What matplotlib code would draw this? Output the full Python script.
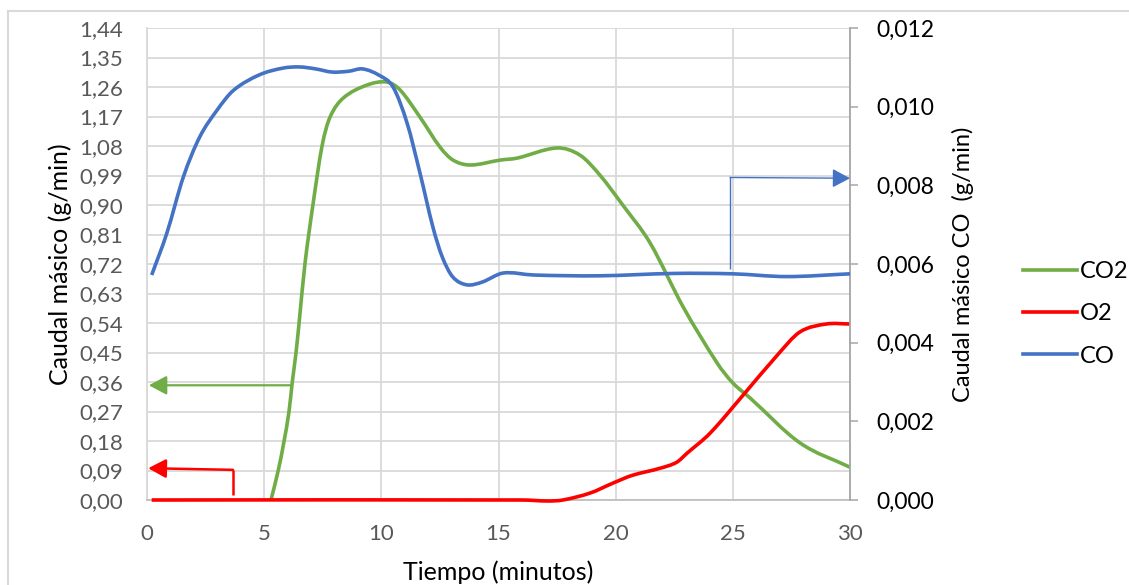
import matplotlib
matplotlib.use("Agg")
import matplotlib.pyplot as plt
import numpy as np
from matplotlib.path import Path
from matplotlib.patches import PathPatch
from matplotlib.lines import Line2D
from matplotlib.ticker import FixedLocator, FuncFormatter

plt.rcParams['font.family'] = ['Lato', 'DejaVu Sans']

# ---- data -------------------------------------------------------------
t_co2 = [5.29, 5.60, 5.85, 6.06, 6.20, 6.36, 6.49, 6.74, 7.08, 7.47, 7.81,
         8.37, 9.39, 10.24, 10.80, 11.65, 12.50, 13.06, 13.79, 15.07, 15.79,
         17.50, 18.48, 19.33, 20.30, 21.47, 22.88, 24.33, 25.00, 25.74,
         27.87, 30.00]
co2 = [0.00, 0.09, 0.18, 0.27, 0.36, 0.45, 0.54, 0.72, 0.90, 1.08, 1.168,
       1.226, 1.266, 1.275, 1.251, 1.168, 1.077, 1.037, 1.022, 1.037, 1.043,
       1.074, 1.052, 0.991, 0.900, 0.784, 0.589, 0.418, 0.357, 0.311,
       0.174, 0.100]

t_o2 = [0.2, 16.0, 17.1, 17.75, 18.9, 19.9, 20.7, 21.9, 22.6, 23.05, 24.03,
        25.44, 26.9, 27.87, 29.0, 30.0]
o2 = [0.0, 0.0, -0.003, 0.0, 0.021, 0.052, 0.075, 0.097, 0.115, 0.143, 0.204,
      0.320, 0.442, 0.513, 0.537, 0.537]

t_co = [0.2, 0.85, 1.55, 2.25, 3.0, 3.7, 4.8, 5.8, 6.5, 7.2, 7.9, 8.6, 9.2,
        9.9, 10.5, 11.1, 11.65, 12.2, 12.6, 13.05, 13.65, 14.3, 15.2, 16.5,
        19.3, 22.5, 25.0, 27.3, 30.0]
co = [0.00572, 0.00679, 0.00821, 0.00923, 0.00992, 0.01042, 0.01081, 0.01098,
      0.01101, 0.01096, 0.01088, 0.01090, 0.01096, 0.01080, 0.01050, 0.00958,
      0.00831, 0.00694, 0.00618, 0.00567, 0.00547, 0.00554, 0.00577, 0.00572,
      0.00570, 0.00576, 0.00575, 0.00568, 0.00575]

series_names = ["CO2", "O2", "CO"]
series_colors = ["#70ad47", "#ff0000", "#4472c4"]

x_ticks = [0, 5, 10, 15, 20, 25, 30]
left_ticks = [round(0.09 * i, 2) for i in range(17)]
right_ticks = [0.000, 0.002, 0.004, 0.006, 0.008, 0.010, 0.012]

# axis-pointer annotations (x, y values in each axis' units)
co2_pointer = dict(x_from=6.18, y=0.35, x_to=0.08)
o2_pointer = dict(x_corner=3.67, y_low=0.015, y_corner=0.092, x_to=0.05, y_to=0.097)
co_pointer = dict(x_corner=24.88, y_low=0.00587, y_corner=0.00820, x_to=30.0, y_to=0.00818)


def smooth_path(x, y):
    """Cubic Bezier path through the points (smoothed line)."""
    x = np.asarray(x, float)
    y = np.asarray(y, float)
    n = len(x)
    m = np.zeros(n)
    m[0] = (y[1] - y[0]) / (x[1] - x[0])
    m[-1] = (y[-1] - y[-2]) / (x[-1] - x[-2])
    for i in range(1, n - 1):
        m[i] = (y[i + 1] - y[i - 1]) / (x[i + 1] - x[i - 1])
    verts = [(x[0], y[0])]
    codes = [Path.MOVETO]
    for i in range(n - 1):
        dx = x[i + 1] - x[i]
        verts += [(x[i] + dx / 3, y[i] + m[i] * dx / 3),
                  (x[i + 1] - dx / 3, y[i + 1] - m[i + 1] * dx / 3),
                  (x[i + 1], y[i + 1])]
        codes += [Path.CURVE4] * 3
    return Path(verts, codes)


W, H = 1129, 585
fig = plt.figure(figsize=(W / 100, H / 100), dpi=100)
ax = fig.add_axes([147 / W, 1 - 500 / H, 703 / W, 472 / H])
ax2 = ax.twinx()

grid_c = "#d9d9d9"
ax.set_xlim(0, 30)
ax.set_ylim(0, 1.44)
ax2.set_ylim(0, 0.012)

ax.xaxis.set_major_locator(FixedLocator(x_ticks))
ax.yaxis.set_major_locator(FixedLocator(left_ticks))
ax2.yaxis.set_major_locator(FixedLocator(right_ticks))
ax.xaxis.set_major_formatter(FuncFormatter(lambda v, p: f"{v:.0f}"))
ax.yaxis.set_major_formatter(FuncFormatter(lambda v, p: f"{v:.2f}".replace(".", ",")))
ax2.yaxis.set_major_formatter(FuncFormatter(lambda v, p: f"{v:.3f}".replace(".", ",")))

ax.grid(True, color=grid_c, lw=1.3, zorder=0)
ax.set_axisbelow(True)

ax.tick_params(axis="y", length=0, pad=17, labelsize=16, labelcolor="#595959")
ax.tick_params(axis="x", length=0, pad=17, labelsize=16, labelcolor="#595959")
ax2.tick_params(axis="y", direction="out", length=6, width=1.1, color="#a6a6a6",
                pad=13, labelsize=16.5, labelcolor="black")

for s in ("top", "right"):
    ax.spines[s].set_visible(False)
ax.spines["left"].set_color(grid_c)
ax.spines["left"].set_linewidth(1.3)
ax.spines["bottom"].set_color("#bfbfbf")
ax.spines["bottom"].set_linewidth(1.3)
for s in ("top", "left", "bottom"):
    ax2.spines[s].set_visible(False)
ax2.spines["right"].set_color("#a6a6a6")
ax2.spines["right"].set_linewidth(1.3)

# series
lw = 2.6
for (tx, vy, c, target, z) in [(t_co2, co2, series_colors[0], ax, 3),
                               (t_o2, o2, series_colors[1], ax, 4),
                               (t_co, co, series_colors[2], ax2, 5)]:
    patch = PathPatch(smooth_path(tx, vy), facecolor="none", edgecolor=c, lw=lw,
                      capstyle="butt", joinstyle="round", clip_on=False, zorder=z)
    target.add_patch(patch)

ax.set_xlim(0, 30)
ax.set_ylim(0, 1.44)
ax2.set_ylim(0, 0.012)

# pointers to the corresponding axis
head = "-|>,head_length=0.6,head_width=0.32"
ax.annotate("", xy=(co2_pointer["x_to"], co2_pointer["y"]),
            xytext=(co2_pointer["x_from"], co2_pointer["y"]),
            arrowprops=dict(arrowstyle=head, color=series_colors[0], lw=1.6,
                            mutation_scale=18, shrinkA=0, shrinkB=0), zorder=6)
ax.plot([o2_pointer["x_corner"]] * 2, [o2_pointer["y_low"], o2_pointer["y_corner"]],
        color=series_colors[1], lw=1.8, zorder=6, solid_capstyle="butt")
ax.annotate("", xy=(o2_pointer["x_to"], o2_pointer["y_to"]),
            xytext=(o2_pointer["x_corner"], o2_pointer["y_corner"]),
            arrowprops=dict(arrowstyle=head, color=series_colors[1], lw=1.8,
                            mutation_scale=18, shrinkA=0, shrinkB=0), zorder=6)
ax2.plot([co_pointer["x_corner"]] * 2, [co_pointer["y_low"], co_pointer["y_corner"]],
         color=series_colors[2], lw=1.0, zorder=6, solid_capstyle="butt")
ax2.annotate("", xy=(co_pointer["x_to"], co_pointer["y_to"]),
             xytext=(co_pointer["x_corner"], co_pointer["y_corner"]),
             arrowprops=dict(arrowstyle=head, color=series_colors[2], lw=1.0,
                             mutation_scale=18, shrinkA=0, shrinkB=0), zorder=6)

# axis titles
ax.text(-0.124, 0.5, "Caudal másico (g/min)", transform=ax.transAxes, rotation=90,
        ha="center", va="center", fontsize=18, color="black")
ax.text(1.161, 0.5, "Caudal másico CO  (g/min)", transform=ax.transAxes, rotation=90,
        ha="center", va="center", fontsize=17, color="black")
ax.text(0.5, -0.153, "Tiempo (minutos)", transform=ax.transAxes,
        ha="center", va="center", fontsize=18, color="black")

# legend
handles = [Line2D([], [], color=c, lw=lw) for c in series_colors]
fig.legend(handles, series_names, loc="center left",
           bbox_to_anchor=(1023 / W, 1 - 314 / H), frameon=False, fontsize=17,
           handlelength=2.3, handletextpad=0.1, labelspacing=0.9,
           borderpad=0, borderaxespad=0)

# chart border
fig.add_artist(Line2D([8 / W, 8 / W], [0, 1 - 11 / H], color="#d9d9d9", lw=1.5,
                      transform=fig.transFigure))
fig.add_artist(Line2D([8 / W, 1], [1 - 11 / H, 1 - 11 / H], color="#d9d9d9", lw=1.5,
                      transform=fig.transFigure))

fig.savefig("out.png", dpi=100)
